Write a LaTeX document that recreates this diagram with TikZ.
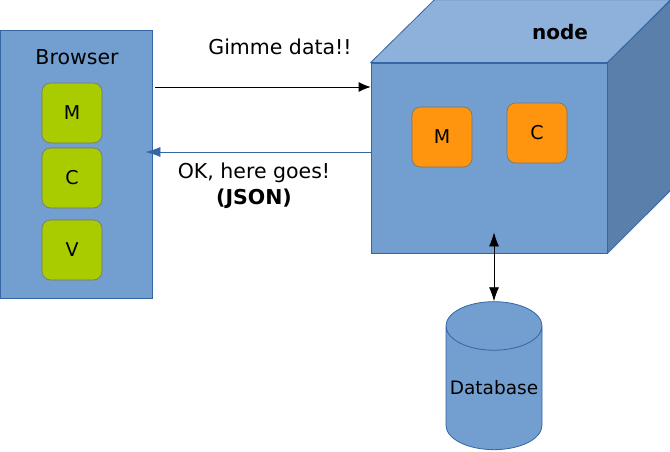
\documentclass[tikz,border=0pt]{standalone}
\usepackage{fontspec}
\setmainfont{DejaVu Sans}
\usepackage{tikz}
\usetikzlibrary{positioning, arrows.meta, shapes.geometric}
\usepackage{xcolor}
\definecolor{boxblue}{HTML}{729FCF}
\definecolor{edgeblue}{HTML}{3465A4}
\definecolor{topblue}{HTML}{8EB1DB}
\definecolor{sideblue}{HTML}{5B7FAB}
\definecolor{mvcgreen}{HTML}{A9CC00}
\definecolor{mvcorange}{HTML}{FF950E}
\newcommand{\clientcolor}{mvcgreen}
\newcommand{\servercolor}{mvcorange}

\begin{document}
\begin{tikzpicture}[
      x=1pt, y=-1pt,
      % GLOBAL CFG
      font=\fontsize{20.5}{24}\selectfont,
      % Styles
      pane/.style={% For the big blue boxes
        rectangle,
        draw=edgeblue,
        fill=boxblue,
        line width=0.8pt,
        inner sep=0pt
      },
      part/.style={% For M, C and V
        rectangle,
        rounded corners=3mm,
        draw=black!55,
        line width=0.6pt,
        minimum width=60pt,
        minimum height=60pt,
        inner sep=0pt,
        font=\fontsize{19}{22}\selectfont
      },
      face/.style={% For the faces of the cube
        draw=edgeblue,
        line width=0.8pt,
        line join=round
      },
      store/.style={% For the database
        cylinder,
        shape border rotate=90,
        aspect=0.55,
        draw=edgeblue,
        fill=boxblue,
        line width=0.8pt,
        minimum width=96pt,
        minimum height=148pt,
        inner sep=0pt,
        font=\fontsize{18.5}{22}\selectfont
      },
      arrowrequest/.style={% Arrow from browser to server
        line width=0.8pt,
        -{Latex[length=12pt,width=10pt]},
        shorten <=3pt
      },
      arrowreply/.style={% Arrow from server back to browser
        line width=0.8pt,
        draw=edgeblue,
        -{Latex[length=15pt,width=10pt]},
        shorten >=-7pt
      },
      arrowstore/.style={% Arrow between server and database
        line width=0.8pt,
        {Latex[length=14pt,width=10pt]}-{Latex[length=14pt,width=10pt]}
      }
      ]

      \useasboundingbox (0,0) rectangle (670,451);

      % The browser side
      \node [pane, minimum width=152pt, minimum height=268pt] (browser) at (76,164) {};
      \node (browserlabel) at (77,57) {Browser};
      \node [part, fill=\clientcolor] (clientm) at (72,113) {M};
      \node [part, fill=\clientcolor] (clientc) at (72,178) {C};
      \node [part, fill=\clientcolor] (clientv) at (72,250) {V};

      % The server cube
      \node [pane, minimum width=236pt, minimum height=190pt] (front) at (489,158) {};
      \draw [face, fill=topblue] (front.north west) -- ++(64,-63) -- ++(236,0)
        -- (front.north east) -- cycle;
      \draw [face, fill=sideblue] (front.north east) -- ++(64,-63) -- ++(0,190)
        -- (front.south east) -- cycle;
      \node [font=\fontsize{20}{24}\selectfont\bfseries] (serverlabel) at (560,32) {node};
      \node [part, fill=\servercolor] (serverm) at (442,137) {M};
      \node [part, fill=\servercolor] (serverc) at (537,133) {C};

      % The messages
      \node (gimme) at (280,47) {Gimme data!!};
      \node (okay) at (254,173) {OK, here goes!};
      \node [font=\fontsize{20.5}{24}\selectfont\bfseries] (json) at (254,199) {(JSON)};
      \draw [arrowrequest] ([yshift=77pt]browser.east) -- ([yshift=77pt]browser.east -| front.west);
      \draw [arrowreply] ([yshift=12pt]browser.east -| front.west) -- ([yshift=12pt]browser.east);

      % The database
      \node [store] (db) at (494,388) {Database};
      \draw [arrowstore] (db.north) -- ([yshift=21pt]front.south -| db.north);

    \end{tikzpicture}
\end{document}
